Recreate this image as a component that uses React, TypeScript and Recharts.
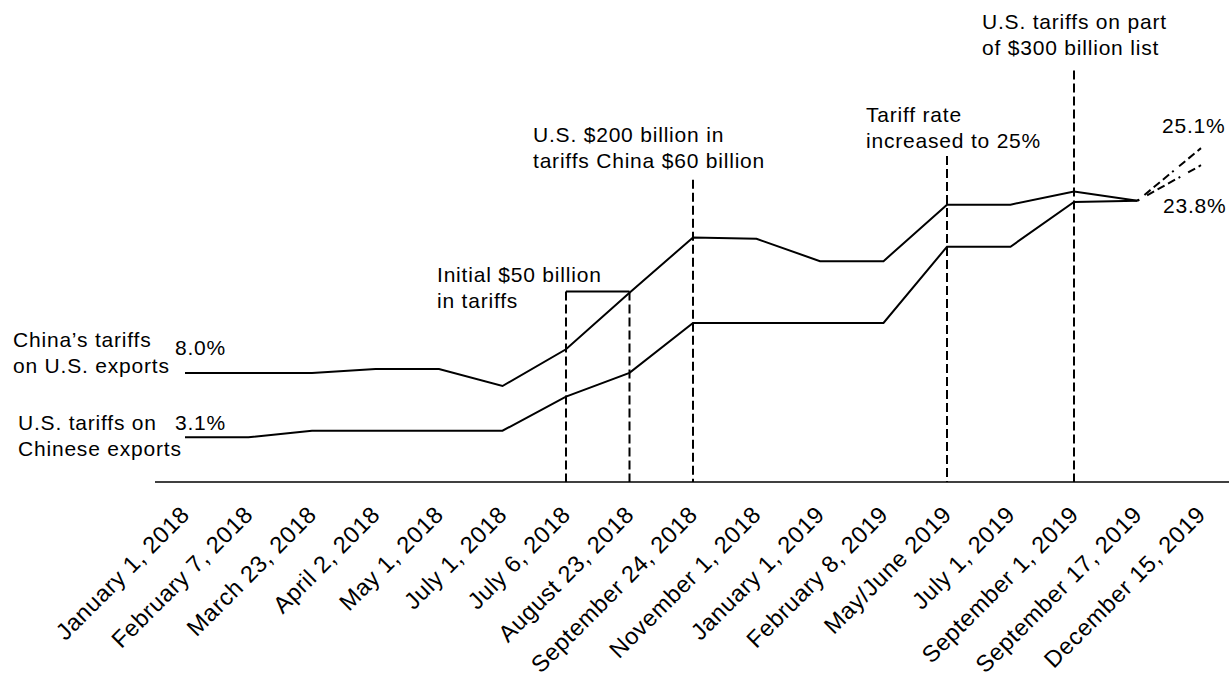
import React from 'react';
import { LineChart, Line, XAxis, YAxis, ReferenceLine } from 'recharts';

const dates = [
  'January 1, 2018', 'February 7, 2018', 'March 23, 2018', 'April 2, 2018', 'May 1, 2018',
  'July 1, 2018', 'July 6, 2018', 'August 23, 2018', 'September 24, 2018', 'November 1, 2018',
  'January 1, 2019', 'February 8, 2019', 'May/June 2019', 'July 1, 2019', 'September 1, 2019',
  'September 17, 2019', 'December 15, 2019',
];

// China's tariffs on U.S. exports (%)
const chinaTariffs: (number | null)[] = [8.0, 8.0, 8.0, 8.3, 8.3, 7.0, 9.8, 14.1, 18.3, 18.2, 16.5, 16.5, 20.8, 20.8, 21.8, 21.1, null];
// U.S. tariffs on Chinese exports (%)
const usTariffs: (number | null)[] = [3.1, 3.1, 3.6, 3.6, 3.6, 3.6, 6.2, 8.0, 11.8, 11.8, 11.8, 11.8, 17.6, 17.6, 21.0, 21.1, null];
// Projections (dashed)
const chinaProjected: (number | null)[] = [null, null, null, null, null, null, null, null, null, null, null, null, null, null, null, 21.1, 25.1];
const usProjected: (number | null)[] = [null, null, null, null, null, null, null, null, null, null, null, null, null, null, null, 21.1, 23.8];

// Event markers: date and the level the dashed marker reaches
const eventDates = ['July 6, 2018', 'August 23, 2018', 'September 24, 2018', 'May/June 2019', 'September 1, 2019'];
const eventTops = [14.2, 14.2, 22.7, 24.5, 31.0];

const Y_MIN = -0.3;
const Y_MAX = 35;

const rows = dates.map((d, i) => ({
  date: d,
  china: chinaTariffs[i],
  us: usTariffs[i],
  chinaProj: chinaProjected[i],
  usProj: usProjected[i],
}));

const FONT = '"Liberation Sans", Arial, Helvetica, sans-serif';

const DateTick = (props: any) => {
  const { x, y, payload } = props;
  const ax = x + 6;
  const ay = y + 26;
  return (
    <text
      x={ax}
      y={ay}
      transform={`rotate(-45, ${ax}, ${ay})`}
      textAnchor="end"
      fontFamily={FONT}
      fontSize={23.5}
      letterSpacing={0.6}
      fill="#000"
    >
      {payload.value}
    </text>
  );
};

const textStyle: React.CSSProperties = {
  fontFamily: FONT,
  fontSize: 21,
  letterSpacing: 0.8,
  fill: '#000',
};

const annotations: { x: number; y: number; lines: string[] }[] = [
  { x: 13, y: 347, lines: ["China\u2019s tariffs", 'on U.S. exports'] },
  { x: 18, y: 430, lines: ['U.S. tariffs on', 'Chinese exports'] },
  { x: 175, y: 355, lines: ['8.0%'] },
  { x: 175, y: 430, lines: ['3.1%'] },
  { x: 437, y: 282, lines: ['Initial $50 billion', 'in tariffs'] },
  { x: 533, y: 142, lines: ['U.S. $200 billion in', 'tariffs China $60 billion'] },
  { x: 866, y: 122, lines: ['Tariff rate', 'increased to 25%'] },
  { x: 982, y: 29, lines: ['U.S. tariffs on part', 'of $300 billion list'] },
  { x: 1162, y: 133, lines: ['25.1%'] },
  { x: 1163, y: 213, lines: ['23.8%'] },
];

export default function App() {
  return (
    <div style={{ position: 'absolute', left: 0, top: 0, width: 1229, height: 680, background: '#fff', overflow: 'hidden' }}>
      <LineChart
        width={1229}
        height={680}
        data={rows}
        margin={{ top: 18, right: 0, bottom: 8, left: 155 }}
      >
        <XAxis
          dataKey="date"
          type="category"
          scale="point"
          padding={{ left: 30, right: 28 }}
          interval={0}
          height={190}
          tickLine={false}
          axisLine={{ stroke: '#000', strokeWidth: 1.5 }}
          tick={<DateTick />}
        />
        <YAxis hide type="number" domain={[Y_MIN, Y_MAX]} allowDataOverflow />
        {eventDates.map((d, i) => (
          <ReferenceLine
            key={d}
            segment={[{ x: d, y: eventTops[i] }, { x: d, y: Y_MIN }]}
            stroke="#000"
            strokeWidth={2}
            strokeDasharray="9 4"
          />
        ))}
        <ReferenceLine
          segment={[{ x: eventDates[0], y: eventTops[0] }, { x: eventDates[1], y: eventTops[1] }]}
          stroke="#000"
          strokeWidth={2}
        />
        <Line dataKey="china" type="linear" stroke="#000" strokeWidth={2} dot={false} isAnimationActive={false} />
        <Line dataKey="us" type="linear" stroke="#000" strokeWidth={2} dot={false} isAnimationActive={false} />
        <Line dataKey="chinaProj" type="linear" stroke="#000" strokeWidth={2} strokeDasharray="2 7 8 4 8 4 8 4" dot={false} isAnimationActive={false} />
        <Line dataKey="usProj" type="linear" stroke="#000" strokeWidth={2} strokeDasharray="2 9 8 4 8 4 8 4" dot={false} isAnimationActive={false} />
      </LineChart>
      <svg
        width={1229}
        height={680}
        style={{ position: 'absolute', left: 0, top: 0, pointerEvents: 'none' }}
      >
        {annotations.map((a, i) => (
          <text key={i} x={a.x} y={a.y} style={textStyle}>
            {a.lines.map((l, j) => (
              <tspan key={j} x={a.x} dy={j === 0 ? 0 : 26}>
                {l}
              </tspan>
            ))}
          </text>
        ))}
      </svg>
    </div>
  );
}
